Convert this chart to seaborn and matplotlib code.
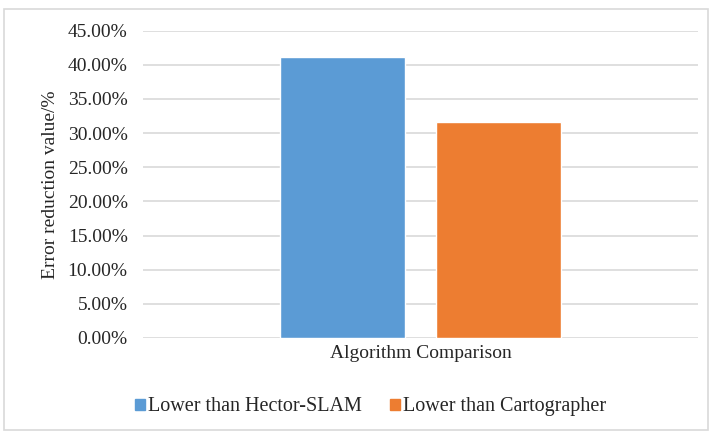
import matplotlib
matplotlib.use("Agg")
import matplotlib.pyplot as plt
import seaborn as sns
import pandas as pd
from matplotlib.ticker import PercentFormatter
from matplotlib.patches import Rectangle

categories = ["Algorithm Comparison"]
series = ["Lower than Hector-SLAM", "Lower than Cartographer"]
values = [0.412, 0.316]
colors = ["#5B9BD5", "#ED7D31"]

df = pd.DataFrame({"cat": categories * len(series), "series": series, "value": values})

sns.set_theme(style="white")
plt.rcParams["font.family"] = ["Liberation Serif", "DejaVu Serif"]
FONT = "Liberation Serif"
TXT = "#262626"

fig = plt.figure(figsize=(7.11, 4.32), dpi=100)
ax = fig.add_axes([0.201, 0.2176, 0.781, 0.7114])

sns.barplot(data=df, x="cat", y="value", hue="series", palette=colors,
            width=0.564, gap=0.2, ax=ax, saturation=1, legend=True)

ax.set_ylim(0, 0.45)
ax.set_xlim(-0.5, 0.5)
ax.set_yticks([i * 0.05 for i in range(10)])
ax.yaxis.set_major_formatter(PercentFormatter(1.0, decimals=2))
ax.grid(axis="y", color="#d9d9d9", linewidth=1.2)
ax.set_axisbelow(True)
for s in ax.spines.values():
    s.set_visible(False)
ax.tick_params(axis="y", length=0, labelsize=14, colors=TXT, pad=11)
ax.tick_params(axis="x", length=0, labelsize=14, colors=TXT, pad=5)
for lab in ax.get_xticklabels() + ax.get_yticklabels():
    lab.set_fontfamily(FONT)
ax.set_xlabel("")
ax.set_ylabel("Error reduction value/%", fontsize=14, color=TXT, labelpad=6,
              fontfamily=FONT)

ax.legend_.remove()
handles = [Rectangle((0, 0), 1, 1, color=c) for c in colors]
fig.legend(handles, series, loc="center", bbox_to_anchor=(0.521, 0.058), ncol=2,
           frameon=False, prop={"family": FONT, "size": 14.5},
           handlelength=0.5, handleheight=0.5,
           handletextpad=0.15, columnspacing=1.4, labelcolor=TXT)

fig.add_artist(Rectangle((0.006, 0.004), 0.99, 0.975, transform=fig.transFigure,
                         fill=False, edgecolor="#d9d9d9", linewidth=1.2))

fig.savefig("out.png", dpi=100)
